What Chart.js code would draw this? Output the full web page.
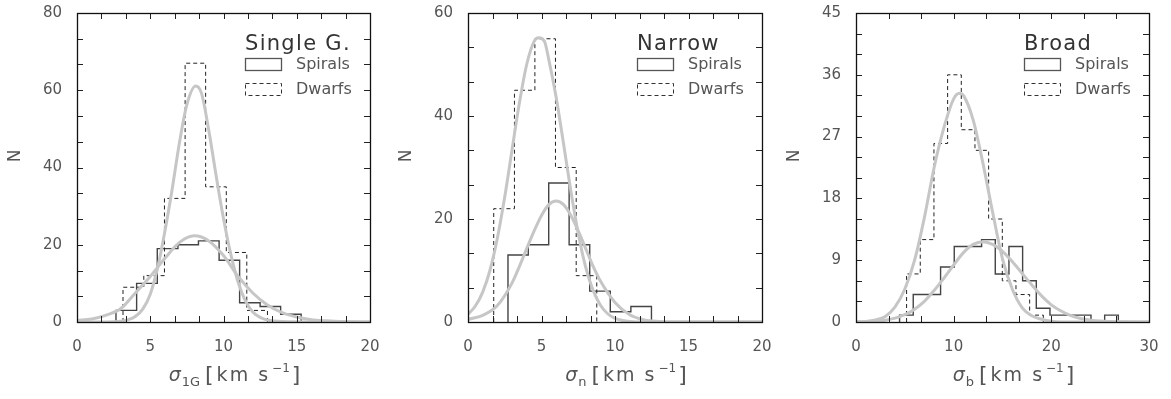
<!DOCTYPE html>
<html>
<head>
<meta charset="utf-8">
<script src="https://cdn.jsdelivr.net/npm/chart.js@4.4.1/dist/chart.umd.min.js"></script>
<style>
  html, body { margin: 0; padding: 0; background: #fff; }
  #wrap { position: relative; width: 1171px; height: 399px; }
  .panel { position: absolute; top: 0; }
</style>
</head>
<body>
<div id="wrap">
  <div class="panel" style="left:0"><canvas id="c1" width="390" height="399"></canvas></div>
  <div class="panel" style="left:390px"><canvas id="c2" width="390" height="399"></canvas></div>
  <div class="panel" style="left:780px"><canvas id="c3" width="391" height="399"></canvas></div>
</div>
<script>
/* ===== DATA ===== */

// Single Gaussian
const singleSpiralEdges = [2.66, 4.07, 5.48, 6.89, 8.29, 9.70, 11.10, 12.50, 13.90, 15.30];
const singleSpiralCounts = [3, 10, 19, 20, 21, 16, 5, 4, 2];
const singleDwarfEdges = [3.14, 4.56, 5.97, 7.38, 8.78, 10.19, 11.59, 13.00];
const singleDwarfCounts = [9, 12, 32, 67, 35, 18, 3];
const singleSpiralFitX = [0, 1, 2, 3, 4, 5, 6, 7, 8, 9, 10, 11, 12, 13, 14, 15, 16, 17, 18, 19, 20];
const singleSpiralFitY = [0.4, 0.8, 1.8, 3.5, 7.6, 11.8, 16.5, 20.6, 22.3, 21.0, 17.2, 11.8, 7.5, 4.4, 2.4, 1.3, 0.6, 0.3, 0.1, 0.05, 0];
const singleDwarfFitX = [0, 2, 3, 3.5, 4, 4.5, 5, 5.5, 6, 6.5, 7, 7.5, 8.1, 8.5, 9, 9.5, 10, 10.5, 11, 11.5, 12, 12.5, 13, 14, 16, 20];
const singleDwarfFitY = [0, 0, 0.2, 0.6, 1.5, 3.4, 7.2, 14.0, 23.5, 34.5, 46.6, 56.3, 61.1, 59.2, 49.5, 37.8, 26.8, 17.5, 10.3, 5.4, 2.6, 1.2, 0.5, 0.1, 0, 0];

// Narrow component
const narrowSpiralEdges = [2.72, 4.10, 5.49, 6.88, 8.28, 9.68, 11.08, 12.48];
const narrowSpiralCounts = [13, 15, 27, 15, 6, 2, 3];
const narrowDwarfEdges = [1.75, 3.16, 4.55, 5.95, 7.36, 8.76];
const narrowDwarfCounts = [22, 45, 55, 30, 9];
const narrowSpiralFitX = [0, 1, 2, 3, 3.5, 4, 4.5, 5, 5.5, 6, 6.5, 7, 7.5, 8, 8.5, 9, 10, 11, 12, 13, 14, 20];
const narrowSpiralFitY = [0.5, 1.3, 3.2, 7.6, 10.8, 14.3, 17.7, 20.7, 22.8, 23.5, 22.8, 20.7, 17.7, 14.3, 10.9, 8.0, 3.8, 1.4, 0.4, 0.1, 0, 0];
const narrowDwarfFitX = [0, 0.5, 1, 1.5, 2, 2.5, 3, 3.5, 4, 4.5, 4.8, 5.2, 5.5, 6, 6.5, 7, 7.5, 8, 8.5, 9, 9.5, 10, 10.5, 11, 12, 20];
const narrowDwarfFitY = [1.5, 3.1, 5.8, 10.1, 16.3, 24.3, 33.5, 42.6, 50.1, 54.5, 55.2, 54.5, 50.9, 43.6, 34.6, 25.4, 17.2, 10.7, 6.2, 3.3, 1.6, 0.7, 0.3, 0.1, 0, 0];

// Broad component
const broadSpiralEdges = [4.46, 5.86, 7.26, 8.66, 10.06, 11.46, 12.86, 14.26, 15.66, 17.06, 18.46, 19.86, 21.26, 22.66, 24.06, 25.46, 26.86];
const broadSpiralCounts = [1, 4, 4, 8, 11, 11, 12, 7, 11, 6, 2, 1, 1, 1, 0, 1];
const broadDwarfEdges = [5.18, 6.58, 7.98, 9.38, 10.78, 12.18, 13.58, 14.98, 16.38, 17.78, 19.18];
const broadDwarfCounts = [7, 12, 26, 36, 28, 25, 15, 6, 4, 1];
const broadSpiralFitX = [0, 2, 3, 4, 5, 6, 7, 8, 9, 10, 11, 12, 13, 14, 15, 16, 17, 18, 19, 20, 21, 22, 23, 24, 25, 26, 27, 30];
const broadSpiralFitY = [0.02, 0.13, 0.27, 0.56, 1.06, 1.86, 3.0, 4.6, 6.4, 8.3, 10.1, 11.3, 11.7, 11.3, 10.3, 8.8, 7.1, 5.4, 3.8, 2.5, 1.6, 0.93, 0.51, 0.27, 0.13, 0.06, 0.02, 0];
const broadDwarfFitX = [0, 1, 2, 3, 4, 5, 6, 7, 8, 9, 10, 10.6, 11, 12, 13, 14, 15, 16, 17, 18, 19, 20, 21, 30];
const broadDwarfFitY = [0.03, 0.09, 0.3, 0.8, 2.2, 4.8, 9.0, 15.2, 22.5, 28.3, 32.5, 33.3, 33.0, 29.4, 23.1, 15.9, 9.2, 4.8, 2.1, 0.9, 0.4, 0.1, 0, 0];

/* ===== STYLE ===== */
const FONT = '"DejaVu Sans", "Liberation Sans", sans-serif';
const TEXT = "#555";
const FIT_GREY = "#c6c6c6";

/* ===== HELPERS ===== */
function outline(edges, counts) {
  const pts = [{ x: edges[0], y: 0 }];
  counts.forEach((c, i) => pts.push({ x: edges[i + 1], y: c }));
  pts.push({ x: edges[edges.length - 1], y: 0 });
  return pts;
}

function curve(xs, ys) {
  return xs.map((x, i) => ({ x, y: ys[i] }));
}

function drawXTitle(ctx, cx, y, sub) {
  const parts = [
    { t: "σ", f: `oblique 19px ${FONT}`, dy: 0, gap: 1 },
    { t: sub, f: `13px ${FONT}`, dy: 5, gap: 5 },
    { t: "[", f: `22px ${FONT}`, dy: 1, gap: 3 },
    { t: "km s", f: `19px ${FONT}`, dy: 0, gap: 2, ls: 2 },
    { t: "−1", f: `12px ${FONT}`, dy: -9, gap: 2 },
    { t: "]", f: `22px ${FONT}`, dy: 1, gap: 0 }
  ];
  let total = 0;
  parts.forEach(p => {
    ctx.font = p.f;
    ctx.letterSpacing = (p.ls || 0) + "px";
    p.w = ctx.measureText(p.t).width;
    total += p.w + p.gap;
  });
  let x = cx - total / 2;
  ctx.textAlign = "left";
  ctx.textBaseline = "alphabetic";
  parts.forEach(p => {
    ctx.font = p.f;
    ctx.letterSpacing = (p.ls || 0) + "px";
    ctx.fillText(p.t, x, y + p.dy);
    x += p.w + p.gap;
  });
  ctx.letterSpacing = "0px";
}

const decor = {
  id: "decor",
  afterDatasetsDraw(chart, args, o) {
    const { ctx, chartArea: a, scales: { x, y } } = chart;
    ctx.save();

    // inward ticks on all four sides
    ctx.strokeStyle = "#222";
    ctx.lineWidth = 1;
    ctx.beginPath();
    for (let i = 0; i * o.xMinor <= x.max + 1e-6; i++) {
      const px = Math.round(x.getPixelForValue(i * o.xMinor)) + 0.5;
      ctx.moveTo(px, a.bottom); ctx.lineTo(px, a.bottom - 6);
      ctx.moveTo(px, a.top); ctx.lineTo(px, a.top + 6);
    }
    for (let i = 0; i * o.yMinor <= y.max + 1e-6; i++) {
      const py = Math.round(y.getPixelForValue(i * o.yMinor)) + 0.5;
      ctx.moveTo(a.left, py); ctx.lineTo(a.left + 6, py);
      ctx.moveTo(a.right, py); ctx.lineTo(a.right - 6, py);
    }
    ctx.stroke();

    // frame
    ctx.lineWidth = 1.3;
    ctx.strokeStyle = "#111";
    ctx.strokeRect(Math.round(a.left) + 0.5, Math.round(a.top) + 0.5,
      Math.round(a.right - a.left), Math.round(a.bottom - a.top));

    // legend
    const lx = a.right - 125;
    ctx.fillStyle = "#333";
    ctx.font = `21px ${FONT}`;
    ctx.letterSpacing = "1.3px";
    ctx.textAlign = "left";
    ctx.textBaseline = "alphabetic";
    ctx.fillText(o.title, lx, a.top + 36.5);
    ctx.letterSpacing = "0px";

    ctx.strokeStyle = "#555";
    ctx.lineWidth = 1.3;
    ctx.strokeRect(lx + 0.5, a.top + 45.5, 36, 12);
    ctx.strokeStyle = "#333";
    ctx.lineWidth = 1;
    ctx.setLineDash([4, 3]);
    ctx.strokeRect(lx + 0.5, a.top + 70.5, 36, 12);
    ctx.setLineDash([]);

    ctx.fillStyle = TEXT;
    ctx.font = `16px ${FONT}`;
    ctx.textBaseline = "middle";
    ctx.fillText("Spirals", lx + 51, a.top + 52);
    ctx.fillText("Dwarfs", lx + 51, a.top + 77);

    // axis titles
    ctx.save();
    ctx.translate(a.left - 61, 156);
    ctx.rotate(-Math.PI / 2);
    ctx.font = `17px ${FONT}`;
    ctx.textAlign = "center";
    ctx.textBaseline = "middle";
    ctx.fillText("N", 0, 0);
    ctx.restore();

    ctx.fillStyle = TEXT;
    drawXTitle(ctx, (a.left + a.right) / 2 + 11, 381, o.sub);
    ctx.restore();
  }
};

function makeChart(id, p) {
  return new Chart(document.getElementById(id), {
    type: "line",
    data: {
      datasets: [
        { data: curve(p.dwarfFitX, p.dwarfFitY), borderColor: FIT_GREY, borderWidth: 3, cubicInterpolationMode: "monotone" },
        { data: curve(p.spiralFitX, p.spiralFitY), borderColor: FIT_GREY, borderWidth: 3, cubicInterpolationMode: "monotone" },
        { data: outline(p.dwarfEdges, p.dwarfCounts), borderColor: "#222", borderWidth: 1, borderDash: [4, 3], stepped: "after" },
        { data: outline(p.spiralEdges, p.spiralCounts), borderColor: "#444", borderWidth: 1.4, stepped: "after" }
      ]
    },
    options: {
      responsive: false,
      animation: false,
      layout: { padding: { left: 0, right: p.padRight, top: 13, bottom: 0 } },
      elements: { point: { radius: 0 }, line: { fill: false } },
      plugins: {
        legend: { display: false },
        tooltip: { enabled: false },
        decor: { title: p.title, sub: p.sub, xMinor: p.xMinor, yMinor: p.yMinor }
      },
      scales: {
        x: {
          type: "linear", min: 0, max: p.xMax,
          afterFit(s) { s.height = 77; s.paddingLeft = 0; s.paddingRight = 0; },
          grid: { display: false, drawTicks: false },
          border: { display: false },
          ticks: { stepSize: p.xStep, padding: 16, color: TEXT, font: { family: FONT, size: 15 }, maxRotation: 0, autoSkip: false }
        },
        y: {
          type: "linear", min: 0, max: p.yMax,
          afterFit(s) { s.width = p.left; s.paddingTop = 0; s.paddingBottom = 0; },
          grid: { display: false, drawTicks: false },
          border: { display: false },
          ticks: { stepSize: p.yStep, padding: 15, color: TEXT, font: { family: FONT, size: 15 }, autoSkip: false }
        }
      }
    },
    plugins: [decor]
  });
}

makeChart("c1", {
  title: "Single G.", sub: "1G", left: 77, padRight: 20,
  xMax: 20, xStep: 5, xMinor: 5 / 3, yMax: 80, yStep: 20, yMinor: 20 / 3,
  spiralEdges: singleSpiralEdges, spiralCounts: singleSpiralCounts,
  dwarfEdges: singleDwarfEdges, dwarfCounts: singleDwarfCounts,
  spiralFitX: singleSpiralFitX, spiralFitY: singleSpiralFitY,
  dwarfFitX: singleDwarfFitX, dwarfFitY: singleDwarfFitY
});

makeChart("c2", {
  title: "Narrow", sub: "n", left: 78, padRight: 18,
  xMax: 20, xStep: 5, xMinor: 5 / 3, yMax: 60, yStep: 20, yMinor: 20 / 3,
  spiralEdges: narrowSpiralEdges, spiralCounts: narrowSpiralCounts,
  dwarfEdges: narrowDwarfEdges, dwarfCounts: narrowDwarfCounts,
  spiralFitX: narrowSpiralFitX, spiralFitY: narrowSpiralFitY,
  dwarfFitX: narrowDwarfFitX, dwarfFitY: narrowDwarfFitY
});

makeChart("c3", {
  title: "Broad", sub: "b", left: 76, padRight: 22,
  xMax: 30, xStep: 10, xMinor: 10 / 3, yMax: 45, yStep: 9, yMinor: 3,
  spiralEdges: broadSpiralEdges, spiralCounts: broadSpiralCounts,
  dwarfEdges: broadDwarfEdges, dwarfCounts: broadDwarfCounts,
  spiralFitX: broadSpiralFitX, spiralFitY: broadSpiralFitY,
  dwarfFitX: broadDwarfFitX, dwarfFitY: broadDwarfFitY
});
</script>
</body>
</html>
